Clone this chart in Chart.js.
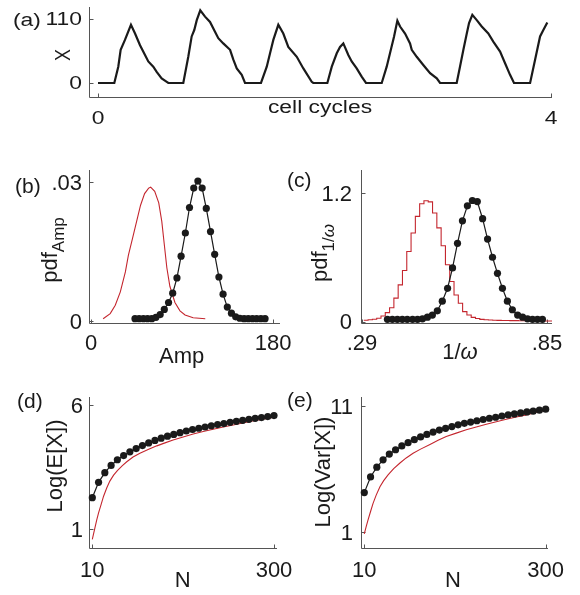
<!DOCTYPE html>
<html>
<head>
<meta charset="utf-8">
<script src="https://cdn.jsdelivr.net/npm/chart.js@4.4.0/dist/chart.umd.min.js"></script>
<style>
  html, body { margin: 0; padding: 0; background: #fff; }
  #fig { position: relative; width: 580px; height: 595px; }
  #fig canvas { position: absolute; left: 0; top: 0; }
</style>
</head>
<body>
<div id="fig">
  <canvas id="panelA" width="580" height="595"></canvas>
  <canvas id="panelB" width="580" height="595"></canvas>
  <canvas id="panelC" width="580" height="595"></canvas>
  <canvas id="panelD" width="580" height="595"></canvas>
  <canvas id="panelE" width="580" height="595"></canvas>
</div>
<script>
const PAGE_W = 580;
const PAGE_H = 595;
const FONT = '"Liberation Sans", Arial, sans-serif';
const INK = '#1a1a1a';
const RED = '#c4262e';

// (a) one trajectory of X over four cell cycles
const cycleTime = [0, 0.144, 0.179, 0.200, 0.238, 0.291, 0.327, 0.371, 0.415, 0.444, 0.488, 0.518, 0.562, 0.607, 0.621,
  0.753, 0.797, 0.827, 0.850, 0.872, 0.903, 0.945, 0.989, 1.033, 1.062, 1.106, 1.166, 1.195, 1.225, 1.269, 1.298,
  1.439, 1.490, 1.519, 1.548, 1.592, 1.636, 1.680, 1.755, 1.813, 1.887, 1.901,
  2.025, 2.064, 2.108, 2.137, 2.166, 2.210, 2.240, 2.284, 2.328, 2.366,
  2.505, 2.549, 2.578, 2.614, 2.643, 2.667, 2.711, 2.755, 2.770, 2.814, 2.872, 2.932, 2.991, 3.020,
  3.167, 3.196, 3.226, 3.256, 3.276, 3.305, 3.344, 3.388, 3.446, 3.490, 3.550, 3.594, 3.638, 3.673,
  3.815, 3.859, 3.903, 3.932, 3.967];
const cycleX = [0, 0, 28, 57, 74, 100, 85, 65, 48, 37, 28, 19, 8, 2, 0,
  0, 45, 80, 91, 108, 125, 114, 105, 88, 77, 68, 57, 40, 25, 14, 0,
  0, 28, 51, 74, 100, 85, 62, 45, 25, 2, 0,
  0, 28, 51, 62, 68, 48, 37, 25, 11, 0,
  0, 28, 51, 80, 107, 97, 85, 68, 57, 45, 31, 17, 8, 0,
  0, 28, 57, 85, 103, 117, 108, 97, 85, 71, 54, 34, 14, 0,
  0, 40, 80, 91, 104];
const cycleTicks = [0, 4];
const xTicksA = [0, 110];

// (b) amplitude distribution
const ampRedX = [12, 19, 24, 29, 34, 37, 41, 45, 49, 53, 57, 59, 63, 67, 70, 72, 75, 78, 83, 88, 93, 101, 113];
const ampRedY = [0.0005, 0.0016, 0.0034, 0.0063, 0.0106, 0.0142, 0.0178, 0.0214, 0.0250, 0.0275, 0.0287, 0.0289,
  0.0280, 0.0255, 0.0215, 0.0175, 0.0115, 0.0075, 0.0040, 0.0022, 0.0013, 0.0007, 0.0005];
const ampDotX = [43.5, 47.6, 51.8, 55.9, 60.1, 64.2, 68.4, 72.5, 76.7, 80.8, 85.0, 89.1, 93.3, 97.4, 101.6, 105.7,
  109.9, 114.0, 118.2, 122.3, 126.5, 130.6, 134.8, 138.9, 143.1, 147.2, 151.4, 155.5, 159.7, 163.8, 168.0, 172.1];
const ampDotY = [0.0005, 0.0005, 0.0005, 0.0005, 0.0005, 0.0008, 0.0014, 0.0025, 0.0040, 0.0060, 0.0093, 0.0140,
  0.0190, 0.0245, 0.0287, 0.0302, 0.0287, 0.0243, 0.0193, 0.0144, 0.0095, 0.0058, 0.0030, 0.0017, 0.0009, 0.0006,
  0.0005, 0.0005, 0.0005, 0.0005, 0.0005, 0.0005];
const ampTicks = [0, 180];
const ampPdfTicks = [0, 0.03];

// (c) period distribution: histogram edges/heights and sampled points
const omegaEdges = [0.2955, 0.3085, 0.3215, 0.3345, 0.3475, 0.3605, 0.3735, 0.3865, 0.3995, 0.4125, 0.4255, 0.4385,
  0.4515, 0.4645, 0.4775, 0.4905, 0.5035, 0.5165, 0.5295, 0.5425, 0.5555, 0.5685, 0.5815, 0.5945, 0.6075, 0.6205,
  0.6335, 0.6465, 0.6595, 0.6725, 0.6855, 0.6985, 0.7115, 0.7245, 0.7375, 0.7505, 0.7635, 0.7765, 0.7895, 0.8025,
  0.8155, 0.8285, 0.8415, 0.8545, 0.8675];
const omegaRed = [0.012, 0.016, 0.021, 0.030, 0.052, 0.083, 0.129, 0.218, 0.342, 0.476, 0.654, 0.827, 0.982, 1.100,
  1.128, 1.117, 1.014, 0.874, 0.708, 0.530, 0.373, 0.248, 0.171, 0.092, 0.061, 0.039, 0.028, 0.020, 0.016, 0.014,
  0.012, 0.011, 0.010, 0.009, 0.008, 0.008, 0.007, 0.007, 0.006, 0.006, 0.005, 0.005, 0.005, 0.005];
const omegaDotX = [0.367, 0.382, 0.397, 0.412, 0.427, 0.443, 0.458, 0.473, 0.488, 0.503, 0.518, 0.533, 0.549, 0.564,
  0.579, 0.594, 0.609, 0.624, 0.639, 0.655, 0.670, 0.685, 0.700, 0.715, 0.730, 0.745, 0.761, 0.776, 0.791, 0.806,
  0.821, 0.836];
const omegaDotY = [0.02, 0.02, 0.02, 0.02, 0.02, 0.02, 0.02, 0.025, 0.04, 0.06, 0.10, 0.19, 0.31, 0.50, 0.73, 0.94,
  1.08, 1.13, 1.12, 0.96, 0.77, 0.60, 0.45, 0.31, 0.19, 0.11, 0.06, 0.04, 0.025, 0.02, 0.02, 0.02];
const omegaTicks = [0.29, 0.85];
const omegaPdfTicks = [0, 1.2];

// (d), (e) moments against system size N
const sizeN = [10, 20, 30, 40, 50, 60, 70, 80, 90, 100, 110, 120, 130, 140, 150, 160, 170, 180, 190, 200,
  210, 220, 230, 240, 250, 260, 270, 280, 290, 300];
const meanDots = [2.26, 2.88, 3.27, 3.56, 3.79, 3.96, 4.11, 4.24, 4.36, 4.47, 4.57, 4.66, 4.74, 4.81, 4.88, 4.95,
  5.01, 5.06, 5.11, 5.16, 5.21, 5.25, 5.30, 5.34, 5.38, 5.42, 5.46, 5.49, 5.53, 5.57];
const meanRedN = [10, 12, 14, 17, 20, 24, 28, 33, 38, 44, 50, 58, 65, 75, 86, 100, 113, 126, 139, 155, 171, 187,
  203, 219, 235, 250, 266, 282, 300];
const meanRed = [0.58, 0.80, 1.02, 1.36, 1.65, 1.98, 2.32, 2.65, 2.93, 3.17, 3.35, 3.55, 3.71, 3.90, 4.05, 4.21,
  4.35, 4.47, 4.59, 4.71, 4.83, 4.93, 5.02, 5.11, 5.19, 5.27, 5.35, 5.42, 5.51];
const varDots = [4.10, 5.34, 6.12, 6.70, 7.16, 7.50, 7.80, 8.06, 8.30, 8.52, 8.72, 8.90, 9.06, 9.20, 9.34, 9.48,
  9.60, 9.70, 9.80, 9.90, 10.00, 10.08, 10.18, 10.26, 10.34, 10.42, 10.50, 10.56, 10.64, 10.72];
const varRedN = [10, 13, 16, 20, 24, 29, 35, 41, 48, 57, 67, 77, 88, 100, 115, 128, 141, 157, 173, 189, 205, 221,
  237, 253, 269, 284, 300];
const varRed = [0.82, 1.40, 1.93, 2.60, 3.25, 3.90, 4.57, 5.05, 5.50, 6.00, 6.45, 6.85, 7.22, 7.55, 7.92, 8.25,
  8.55, 8.82, 9.08, 9.30, 9.52, 9.72, 9.92, 10.10, 10.27, 10.45, 10.63];
const sizeTicks = [10, 300];
const meanTicks = [1, 6];
const varTicks = [1, 11];

const pts = (xs, ys) => xs.map((x, i) => ({ x: x, y: ys[i] }));

function fontOf(part, size) {
  return (part.italic ? 'italic ' : '') + (part.size || size) + 'px ' + FONT;
}

// draws a run of text pieces (sub/superscripts) anchored at x,y
function putText(ctx, parts, x, y, o) {
  ctx.save();
  ctx.translate(x, y);
  ctx.scale(o.sx || 1, 1);
  if (o.rotate) ctx.rotate(-Math.PI / 2);
  let w = 0;
  parts.forEach(p => { ctx.font = fontOf(p, o.size); w += ctx.measureText(p.text).width; });
  let cx = o.align === 'right' ? -w : (o.align === 'center' ? -w / 2 : 0);
  ctx.textAlign = 'left';
  ctx.textBaseline = 'alphabetic';
  ctx.fillStyle = INK;
  parts.forEach(p => {
    ctx.font = fontOf(p, o.size);
    ctx.fillText(p.text, cx, p.dy || 0);
    cx += ctx.measureText(p.text).width;
  });
  ctx.restore();
}

// MATLAB style axes: left/bottom spines, inward ticks, labels
const frame = {
  id: 'frame',
  beforeDatasetsDraw(chart, args, o) {
    const { ctx, chartArea: a } = chart;
    const xs = chart.scales.x, ys = chart.scales.y;
    const L = Math.round(a.left) + 0.5;
    const B = Math.round(a.bottom) + 0.5;
    ctx.save();
    ctx.strokeStyle = '#555';
    ctx.lineWidth = 1;
    ctx.beginPath();
    ctx.moveTo(L, Math.round(a.top));
    ctx.lineTo(L, B);
    ctx.lineTo(Math.round(a.right), B);
    o.xTicks.forEach(v => {
      const p = Math.round(xs.getPixelForValue(v)) + 0.5;
      ctx.moveTo(p, B); ctx.lineTo(p, B - 4);
    });
    o.yTicks.forEach(v => {
      const p = Math.round(ys.getPixelForValue(v)) + 0.5;
      ctx.moveTo(L, p); ctx.lineTo(L + 4, p);
    });
    ctx.stroke();
    ctx.restore();
  },
  afterDraw(chart, args, o) {
    const ctx = chart.ctx;
    const xs = chart.scales.x, ys = chart.scales.y;
    const base = { size: o.size, sx: o.sx };
    o.xTicks.forEach((v, i) => {
      putText(ctx, [{ text: o.xTickText[i] }], xs.getPixelForValue(v), o.xTickBase, { ...base, align: 'center' });
    });
    o.yTicks.forEach((v, i) => {
      const y = ys.getPixelForValue(v) + 0.358 * o.size;
      putText(ctx, [{ text: o.yTickText[i] }], o.yTickRight, y, { ...base, align: 'right' });
    });
    putText(ctx, o.xTitle.parts, o.xTitle.x, o.xTitle.y, { ...base, align: 'center' });
    putText(ctx, o.yTitle.parts, o.yTitle.x, o.yTitle.y, { ...base, align: 'center', rotate: true });
    putText(ctx, [{ text: o.tag.text }], o.tag.x, o.tag.y, { ...base, size: o.tag.size || o.size, align: 'left' });
  }
};

function dotSet(data) {
  return {
    data: data, showLine: true, borderColor: INK, borderWidth: 1.2,
    pointRadius: 3.6, pointBackgroundColor: INK, pointBorderWidth: 0, clip: false
  };
}

function redSet(data, stepped) {
  return {
    data: data, showLine: true, borderColor: RED, borderWidth: 1.1,
    pointRadius: 0, stepped: stepped || false
  };
}

function makePanel(id, area, xRange, yRange, datasets, decor) {
  return new Chart(document.getElementById(id), {
    type: 'scatter',
    data: { datasets: datasets },
    options: {
      responsive: false,
      animation: false,
      events: [],
      layout: {
        padding: { left: area[0], top: area[1], right: PAGE_W - area[2], bottom: PAGE_H - area[3] }
      },
      scales: {
        x: { type: 'linear', display: false, min: xRange[0], max: xRange[1] },
        y: { type: 'linear', display: false, min: yRange[0], max: yRange[1] }
      },
      plugins: {
        legend: { display: false },
        tooltip: { enabled: false },
        frame: decor
      }
    },
    plugins: [frame]
  });
}

// (a)
makePanel('panelA', [89, 7, 551.5, 97], [-0.0795, 4.004], [-24.1, 130.6], [
  { data: pts(cycleTime, cycleX), showLine: true, borderColor: INK, borderWidth: 2.2, pointRadius: 0 }
], {
  size: 18, sx: 1.27,
  tag: { text: '(a)', x: 13, y: 25.7 },
  xTicks: cycleTicks, xTickText: ['0', '4'], xTickBase: 124,
  yTicks: xTicksA, yTickText: ['0', '110'], yTickRight: 82,
  xTitle: { parts: [{ text: 'cell cycles' }], x: 320, y: 113 },
  yTitle: { parts: [{ text: 'X' }], x: 70, y: 55 }
});

// (b)
makePanel('panelB', [88.5, 170, 280, 322.5], [-2.47, 186.9], [-0.00032, 0.0326], [
  dotSet(pts(ampDotX, ampDotY)),
  redSet(pts(ampRedX, ampRedY))
], {
  size: 22,
  tag: { text: '(b)', x: 15, y: 193.3, size: 21 },
  xTicks: ampTicks, xTickText: ['0', '180'], xTickBase: 350,
  yTicks: ampPdfTicks, yTickText: ['0', '.03'], yTickRight: 82,
  xTitle: { parts: [{ text: 'Amp' }], x: 181.7, y: 363 },
  yTitle: { parts: [{ text: 'pdf' }, { text: 'Amp', size: 17, dy: 7 }], x: 57, y: 250 }
});

// (c)
const omegaStairs = pts(omegaEdges, omegaRed.concat([omegaRed[omegaRed.length - 1]]));
makePanel('panelC', [361, 170, 552, 322.5], [0.287, 0.865], [-0.0093, 1.415], [
  dotSet(pts(omegaDotX, omegaDotY)),
  redSet(omegaStairs, 'before')
], {
  size: 22,
  tag: { text: '(c)', x: 287, y: 186.5, size: 21 },
  xTicks: omegaTicks, xTickText: ['.29', '.85'], xTickBase: 350,
  yTicks: omegaPdfTicks, yTickText: ['0', '1.2'], yTickRight: 352,
  xTitle: { parts: [{ text: '1/' }, { text: 'ω', italic: true }], x: 460, y: 359 },
  yTitle: {
    parts: [{ text: 'pdf' }, { text: '1/', size: 17, dy: 7 }, { text: 'ω', size: 17, dy: 7, italic: true }],
    x: 327, y: 253
  }
});

// (d)
makePanel('panelD', [89, 397, 277, 548.3], [4.73, 304.8], [0.22, 6.32], [
  dotSet(pts(sizeN, meanDots)),
  redSet(pts(meanRedN, meanRed))
], {
  size: 22,
  tag: { text: '(d)', x: 17, y: 408, size: 21 },
  xTicks: sizeTicks, xTickText: ['10', '300'], xTickBase: 576.7,
  yTicks: meanTicks, yTickText: ['1', '6'], yTickRight: 83,
  xTitle: { parts: [{ text: 'N' }], x: 182.7, y: 586.7 },
  yTitle: { parts: [{ text: 'Log(E[X])' }], x: 62, y: 466 }
});

// (e)
makePanel('panelE', [361, 396.7, 548.3, 548.3], [4.72, 304.2], [-0.32, 11.71], [
  dotSet(pts(sizeN, varDots)),
  redSet(pts(varRedN, varRed))
], {
  size: 22,
  tag: { text: '(e)', x: 287, y: 407, size: 21 },
  xTicks: sizeTicks, xTickText: ['10', '300'], xTickBase: 576.7,
  yTicks: varTicks, yTickText: ['1', '11'], yTickRight: 353,
  xTitle: { parts: [{ text: 'N' }], x: 453, y: 586.7 },
  yTitle: { parts: [{ text: 'Log(Var[X])' }], x: 330, y: 472 }
});
</script>
</body>
</html>
